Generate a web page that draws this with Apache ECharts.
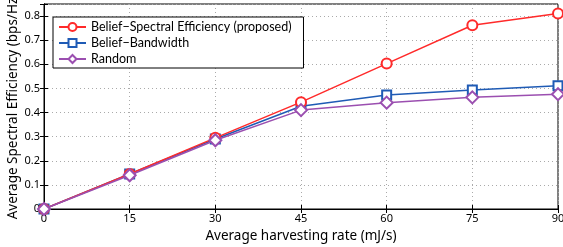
<!DOCTYPE html>
<html><head><meta charset="utf-8">
<script src="https://cdn.jsdelivr.net/npm/echarts@6/dist/echarts.min.js"></script>
<style>html,body{margin:0;padding:0;background:#fff}#c{width:563px;height:247px}</style>
</head><body><div id="c"></div>
<script>
const xValues = [0, 15, 30, 45, 60, 75, 90];
const proposed = [0, 0.145, 0.295, 0.443, 0.603, 0.762, 0.811];
const bandwidth = [0, 0.145, 0.29, 0.426, 0.473, 0.493, 0.511];
const random = [0, 0.14, 0.285, 0.41, 0.441, 0.463, 0.476];
const seriesNames = ['Belief\u2212Spectral Efficiency (proposed)', 'Belief\u2212Bandwidth', 'Random'];
const xName = 'Average harvesting rate (mJ/s)';
const yName = 'Average Spectral Efficiency (bps/Hz)';

const font = 'Noto Sans';
const pair = a => a.map((v, i) => [xValues[i], v]);
const chart = echarts.init(document.getElementById('c'));
const axisLine = {show: true, lineStyle: {color: '#000', width: 1}};
const split = {show: true, lineStyle: {color: '#aaa', type: [1, 3], width: 1}};
chart.setOption({
  animation: false,
  backgroundColor: '#fff',
  textStyle: {fontFamily: font},
  grid: {left: 44, right: 5, top: 4, bottom: 38, show: true, borderColor: '#000', borderWidth: 1,
         containLabel: false, outerBoundsMode: 'none'},
  legend: {
    left: 53, top: 17, orient: 'vertical', itemGap: 2, itemWidth: 27, itemHeight: 10,
    backgroundColor: '#fff', borderColor: '#000', borderWidth: 1, padding: [3, 12, 2, 5],
    textStyle: {fontFamily: 'Lato', fontSize: 12.5, color: '#000', lineHeight: 14},
    data: seriesNames
  },
  xAxis: [{
    type: 'value', min: 0, max: 90, interval: 15,
    name: xName, nameLocation: 'middle', nameGap: 20, nameMoveOverlap: false,
    nameTextStyle: {fontFamily: font, fontSize: 13.5, color: '#000'},
    axisLine: axisLine, axisTick: {inside: true, length: 4, lineStyle: {color: '#000'}},
    axisLabel: {fontFamily: font, fontSize: 11, color: '#000', margin: 4},
    splitLine: split
  }, {
    type: 'value', min: 0, max: 90, interval: 15, position: 'top',
    axisLine: axisLine, axisTick: {inside: true, length: 4, lineStyle: {color: '#000'}},
    axisLabel: {show: false}, splitLine: {show: false}
  }],
  yAxis: [{
    type: 'value', min: 0, max: 0.85, interval: 0.1,
    name: yName, nameLocation: 'middle', nameGap: 24, nameMoveOverlap: false,
    nameTextStyle: {fontFamily: font, fontSize: 13.5, color: '#000'},
    axisLine: axisLine, axisTick: {inside: true, length: 4, lineStyle: {color: '#000'}},
    axisLabel: {fontFamily: font, fontSize: 11, color: '#000', margin: 4,
      formatter: v => v > 0.81 ? '' : (v === 0 ? '0' : v.toFixed(1))},
    splitLine: split
  }, {
    type: 'value', min: 0, max: 0.85, interval: 0.1, position: 'right',
    axisLine: axisLine, axisTick: {inside: true, length: 4, lineStyle: {color: '#000'}},
    axisLabel: {show: false}, splitLine: {show: false}
  }],
  series: [
    {name: seriesNames[0], type: 'line', data: pair(proposed), color: '#ff2a2a',
     symbol: 'emptyCircle', symbolSize: 10, lineStyle: {width: 1.5}, itemStyle: {borderWidth: 1.3}, z: 3},
    {name: seriesNames[1], type: 'line', data: pair(bandwidth), color: '#1f5bb5',
     symbol: 'emptyRect', symbolSize: 9, lineStyle: {width: 1.5}, itemStyle: {borderWidth: 1.3}, z: 2},
    {name: seriesNames[2], type: 'line', data: pair(random), color: '#9b4fb0',
     symbol: 'emptyDiamond', symbolSize: 12, lineStyle: {width: 1.5}, itemStyle: {borderWidth: 1.3}, z: 4}
  ]
});
</script></body></html>
